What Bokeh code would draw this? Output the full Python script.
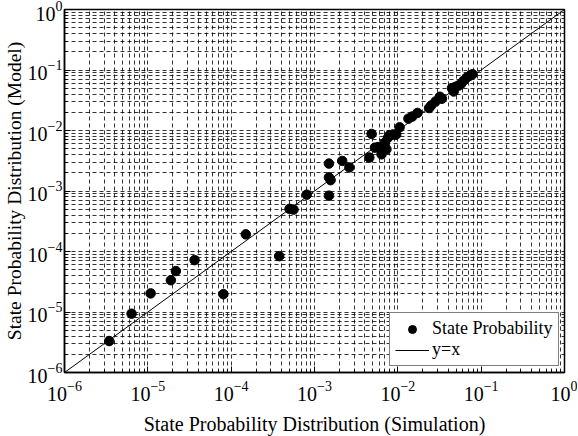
from bokeh.plotting import figure
from bokeh.models import FixedTicker, Legend, LegendItem
from bokeh.embed import file_html
from bokeh.resources import INLINE

# State probability: simulation (x) vs model (y)
sim = [3.44e-6, 6.38e-6, 1.08e-5, 1.89e-5, 2.17e-5, 3.64e-5, 8.07e-5, 1.50e-4,
       3.77e-4, 5.02e-4, 5.60e-4, 8.07e-4, 1.49e-3, 1.49e-3, 1.56e-3, 1.49e-3,
       2.15e-3, 2.62e-3, 4.55e-3, 4.85e-3, 5.31e-3, 5.81e-3, 6.37e-3, 6.97e-3,
       7.30e-3, 7.62e-3, 7.97e-3, 8.73e-3, 9.57e-3, 1.05e-2, 1.34e-2, 1.49e-2,
       1.72e-2, 2.37e-2, 2.52e-2, 2.84e-2, 3.19e-2, 3.38e-2, 4.46e-2, 4.68e-2,
       4.89e-2, 5.35e-2, 5.70e-2, 6.12e-2, 6.70e-2, 7.35e-2, 7.89e-2]
model = [3.31e-6, 9.37e-6, 2.03e-5, 3.35e-5, 4.75e-5, 7.20e-5, 1.97e-5, 1.92e-4,
         8.38e-5, 5.07e-4, 4.93e-4, 8.69e-4, 8.37e-4, 1.68e-3, 1.51e-3, 2.84e-3,
         3.14e-3, 2.45e-3, 3.57e-3, 8.77e-3, 5.20e-3, 5.32e-3, 4.04e-3, 6.28e-3,
         4.89e-3, 7.59e-3, 8.38e-3, 8.60e-3, 8.60e-3, 1.13e-2, 1.57e-2, 1.70e-2,
         1.95e-2, 2.35e-2, 2.60e-2, 3.02e-2, 3.61e-2, 3.35e-2, 5.01e-2, 4.41e-2,
         5.26e-2, 5.53e-2, 5.83e-2, 6.60e-2, 7.48e-2, 8.07e-2, 8.51e-2]
diag = [1e-6, 1e0]
decades = [1e-6, 1e-5, 1e-4, 1e-3, 1e-2, 1e-1, 1e0]
minor = [m * d for d in decades[:-1] for m in range(2, 10)]

FONT = "Liberation Serif"

p = figure(x_axis_type="log", y_axis_type="log",
           x_range=(1e-6, 1), y_range=(1e-6, 1),
           frame_width=500, frame_height=363,
           min_border_left=10, min_border_right=13, min_border_top=9, min_border_bottom=10,
           output_backend="svg", toolbar_location=None)

p.background_fill_color = "white"
p.border_fill_color = "white"
p.outline_line_color = "black"
p.outline_line_width = 1.5
p.outline_line_alpha = 1.0

for ax in (p.xaxis, p.yaxis):
    ax.ticker = FixedTicker(ticks=decades, minor_ticks=minor)
    ax.axis_line_color = "black"
    ax.axis_line_width = 1.5
    ax.major_tick_in = 6
    ax.major_tick_out = 0
    ax.minor_tick_in = 3
    ax.minor_tick_out = 0
    ax.major_tick_line_color = "black"
    ax.minor_tick_line_color = "black"
    ax.major_label_text_font = FONT
    ax.major_label_text_font_size = "20px"
    ax.major_label_text_color = "black"
    ax.axis_label_text_font = FONT
    ax.axis_label_text_font_style = "normal"
    ax.axis_label_text_color = "black"

p.xaxis.axis_label_text_font_size = "20px"
p.yaxis.axis_label_text_font_size = "19.5px"
p.xaxis.axis_label = "State Probability Distribution (Simulation)"
p.yaxis.axis_label = "State Probability Distribution (Model)"
p.xaxis.major_label_standoff = 8
p.yaxis.major_label_standoff = 2
p.xaxis.axis_label_standoff = 9
p.yaxis.axis_label_standoff = 0

for g in (p.xgrid, p.ygrid):
    g.ticker = FixedTicker(ticks=decades, minor_ticks=minor)
    g.grid_line_color = "black"
    g.grid_line_alpha = 0.8
    g.grid_line_dash = "4 3"
    g.grid_line_width = 1
    g.minor_grid_line_color = "black"
    g.minor_grid_line_alpha = 0.8
    g.minor_grid_line_dash = "4 3"
    g.minor_grid_line_width = 1

line = p.line(diag, diag, line_color="black", line_width=1)
pts = p.scatter(sim, model, size=9.5, marker="circle", fill_color="black", line_color="black")

legend = Legend(items=[LegendItem(label="State Probability", renderers=[pts]),
                       LegendItem(label="y=x", renderers=[line])],
                location=(325, 6))
legend.label_text_font = FONT
legend.label_text_font_size = "18px"
legend.label_text_color = "black"
legend.border_line_color = "black"
legend.border_line_width = 1.2
legend.background_fill_alpha = 1.0
legend.glyph_width = 34
legend.padding = 5
legend.spacing = 0
legend.margin = 0
legend.label_standoff = 3
legend.label_height = 20
legend.glyph_height = 20
p.add_layout(legend, "center")

open("out.html", "w").write(file_html(p, INLINE))
